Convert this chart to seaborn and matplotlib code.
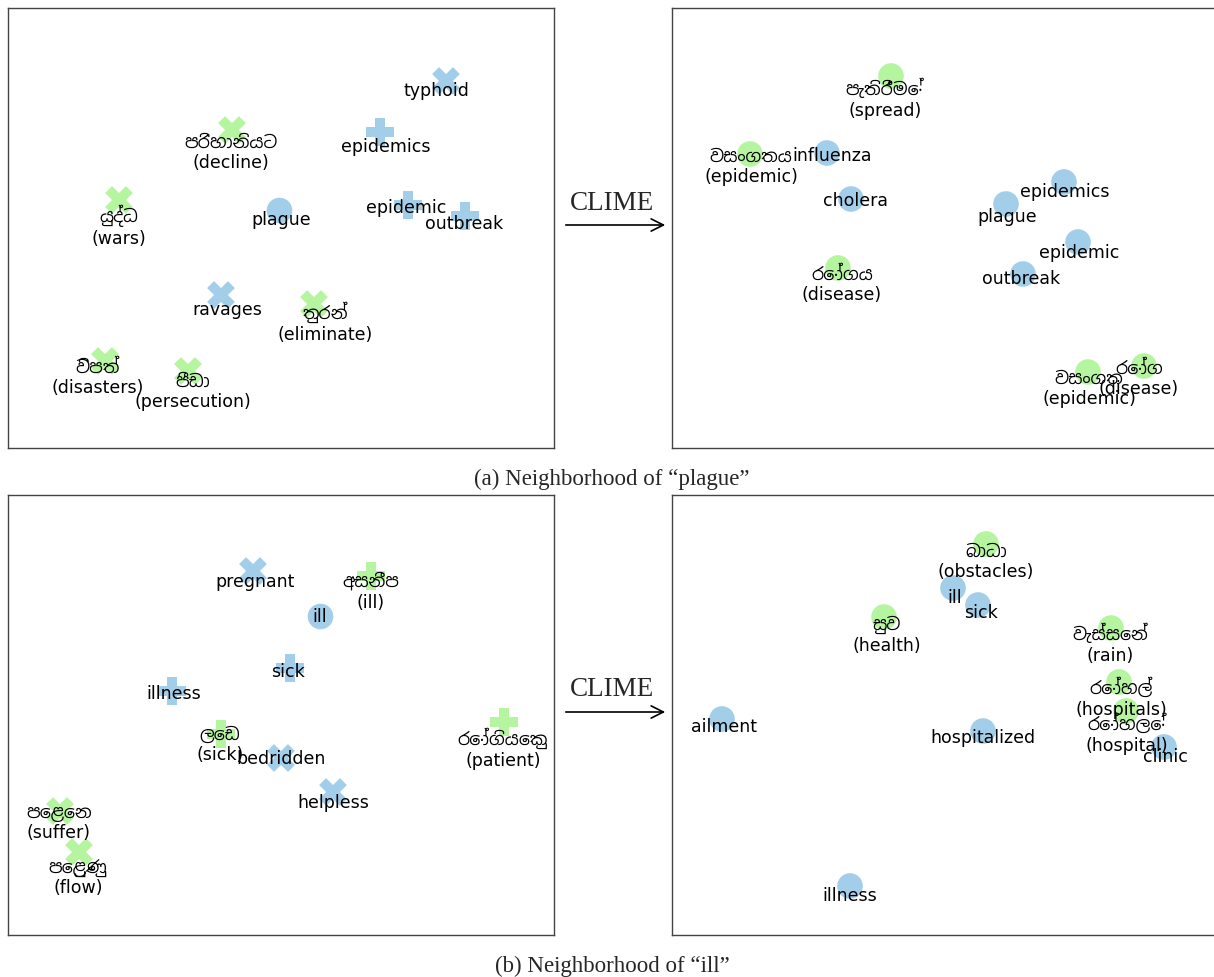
import numpy as np
import pandas as pd
import matplotlib
matplotlib.use('Agg')
import matplotlib.pyplot as plt
from matplotlib import font_manager
import seaborn as sns

# ---- data: word positions in each 2-d projection (panel units), label positions, marker kind, language
# (a) plague, before CLIME
a_words = ['typhoid', 'පරිහානියට\n(decline)', 'epidemics', 'යුද්ධ\n(wars)', 'plague', 'epidemic',
           'outbreak', 'ravages', 'තුරන්\n(eliminate)', 'විපත්\n(disasters)', 'පීඩා\n(persecution)']
a_x = [438, 224, 372, 111, 271, 400, 457, 213, 306, 97, 180]
a_y = [367, 318, 316, 248, 238, 243, 232, 153, 144, 87, 77]
a_lx = [428, 223, 378, 111, 273, 398, 456, 219, 317, 90, 185]
a_ly = [358, 296, 302, 223, 229, 241, 225, 139, 126, 71, 57]
a_kind = ['X', 'X', 'P', 'X', 'o', 'P', 'P', 'X', 'X', 'X', 'X']
a_lang = ['en', 'si', 'en', 'si', 'en', 'en', 'en', 'en', 'si', 'si', 'si']

# (a) plague, after CLIME
b_words = ['පැතිරීමේ\n(spread)', 'වසංගතය\n(epidemic)', 'influenza', 'cholera', 'epidemics', 'plague',
           'epidemic', 'outbreak', 'රෝගය\n(disease)', 'වසංගත\n(epidemic)', 'රෝග\n(disease)']
b_x = [219, 78, 155, 179, 392, 334, 406, 351, 166, 416, 472]
b_y = [372, 294, 295, 249, 266, 244, 206, 174, 180, 76, 82]
b_lx = [213, 79, 160, 183, 393, 335, 407, 349, 170, 417, 467]
b_ly = [350, 282, 293, 248, 257, 232, 196, 170, 164, 60, 70]
b_kind = ['o'] * 11
b_lang = ['si', 'si', 'en', 'en', 'en', 'en', 'en', 'en', 'si', 'si', 'si']

# (b) ill, before CLIME
c_words = ['pregnant', 'අසනීප\n(ill)', 'ill', 'sick', 'illness', 'ලෙඩ\n(sick)', 'bedridden',
           'helpless', 'රෝගියෙකු\n(patient)', 'පෙළෙන\n(suffer)', 'පෙළුණු\n(flow)']
c_x = [245, 363, 312, 282, 164, 213, 273, 325, 496, 52, 71]
c_y = [364, 359, 319, 267, 244, 201, 177, 143, 213, 124, 83]
c_lx = [247, 363, 312, 280, 166, 212, 273, 325, 495, 51, 70]
c_ly = [354, 344, 319, 264, 242, 191, 177, 133, 187, 113, 58]
c_kind = ['X', 'P', 'o', 'P', 'P', 'P', 'X', 'X', 'P', 'X', 'X']
c_lang = ['en', 'si', 'en', 'en', 'en', 'si', 'en', 'en', 'si', 'si', 'si']

# (b) ill, after CLIME
d_words = ['බාධා\n(obstacles)', 'ill', 'sick', 'සුව\n(health)', 'වැස්සෙන්\n(rain)', 'රෝහල්\n(hospitals)',
           'රෝහලේ\n(hospital)', 'clinic', 'ailment', 'hospitalized', 'illness']
d_x = [314, 281, 306, 212, 439, 447, 454, 492, 50, 311, 178]
d_y = [391, 347, 330, 318, 307, 253, 224, 188, 216, 204, 49]
d_lx = [314, 283, 309, 215, 438, 449, 455, 493, 52, 311, 178]
d_ly = [374, 338, 323, 301, 292, 238, 202, 179, 209, 198, 40]
d_kind = ['o'] * 11
d_lang = ['si', 'en', 'en', 'si', 'si', 'si', 'si', 'en', 'en', 'en', 'en']

captions = ['(a) Neighborhood of \u201cplague\u201d', '(b) Neighborhood of \u201cill\u201d']

BLUE = '#a3cee9'
GREEN = '#b6f5a0'

sns.set_style('white')
names = {f.name for f in font_manager.fontManager.ttflist}
fams = ['DejaVu Sans'] + [n for n in ['Noto Sans Sinhala', 'Noto Serif Sinhala', 'Iskoola Pota', 'LKLUG'] if n in names]
plt.rcParams['font.family'] = fams

fig = plt.figure(figsize=(12.14, 9.78), dpi=100)
W, H = 1214.0, 978.0

def panel(rect, words, x, y, lx, ly, kind, lang, xmax):
    ax = fig.add_axes(rect)
    df = pd.DataFrame({'x': x, 'y': y, 'kind': kind, 'lang': lang})
    for k, s in [('o', 340), ('X', 400), ('P', 400)]:
        sub = df[df.kind == k]
        if len(sub) == 0:
            continue
        sns.scatterplot(data=sub, x='x', y='y', hue='lang', palette={'en': BLUE, 'si': GREEN},
                        marker=k, s=s, linewidth=0, legend=False, ax=ax, zorder=1)
    for w, tx, ty in zip(words, lx, ly):
        ax.text(tx, ty, w, ha='center', va='center', fontsize=12.5, color='black', zorder=3)
    ax.set_xlim(0, xmax)
    ax.set_ylim(0, 440)
    ax.set_xticks([])
    ax.set_yticks([])
    ax.set_xlabel('')
    ax.set_ylabel('')
    for sp in ax.spines.values():
        sp.set_color('#444444')
        sp.set_linewidth(1.0)
    return ax

panel([8 / W, 1 - 449 / H, 546 / W, 440 / H], a_words, a_x, a_y, a_lx, a_ly, a_kind, a_lang, 546)
panel([672 / W, 1 - 449 / H, 548 / W, 440 / H], b_words, b_x, b_y, b_lx, b_ly, b_kind, b_lang, 548)
panel([8 / W, 1 - 936 / H, 546 / W, 440 / H], c_words, c_x, c_y, c_lx, c_ly, c_kind, c_lang, 546)
panel([672 / W, 1 - 936 / H, 548 / W, 440 / H], d_words, d_x, d_y, d_lx, d_ly, d_kind, d_lang, 548)

# CLIME arrows between panels
for ty, ay in [(203, 226), (690, 713)]:
    fig.text(612 / W, 1 - ty / H, 'CLIME', ha='center', va='center',
             fontsize=19.5, family='Liberation Serif')
    fig.add_artist(matplotlib.patches.FancyArrowPatch(
        (563 / W, 1 - ay / H), (668 / W, 1 - ay / H), transform=fig.transFigure,
        arrowstyle='->', mutation_scale=22, lw=1.2, color='black'))

fig.text(612 / W, 1 - 479 / H, captions[0], ha='center', va='center', fontsize=16.5, family='Liberation Serif')
fig.text(612 / W, 1 - 966 / H, captions[1], ha='center', va='center', fontsize=16.5, family='Liberation Serif')

fig.savefig('out.png', dpi=100)
